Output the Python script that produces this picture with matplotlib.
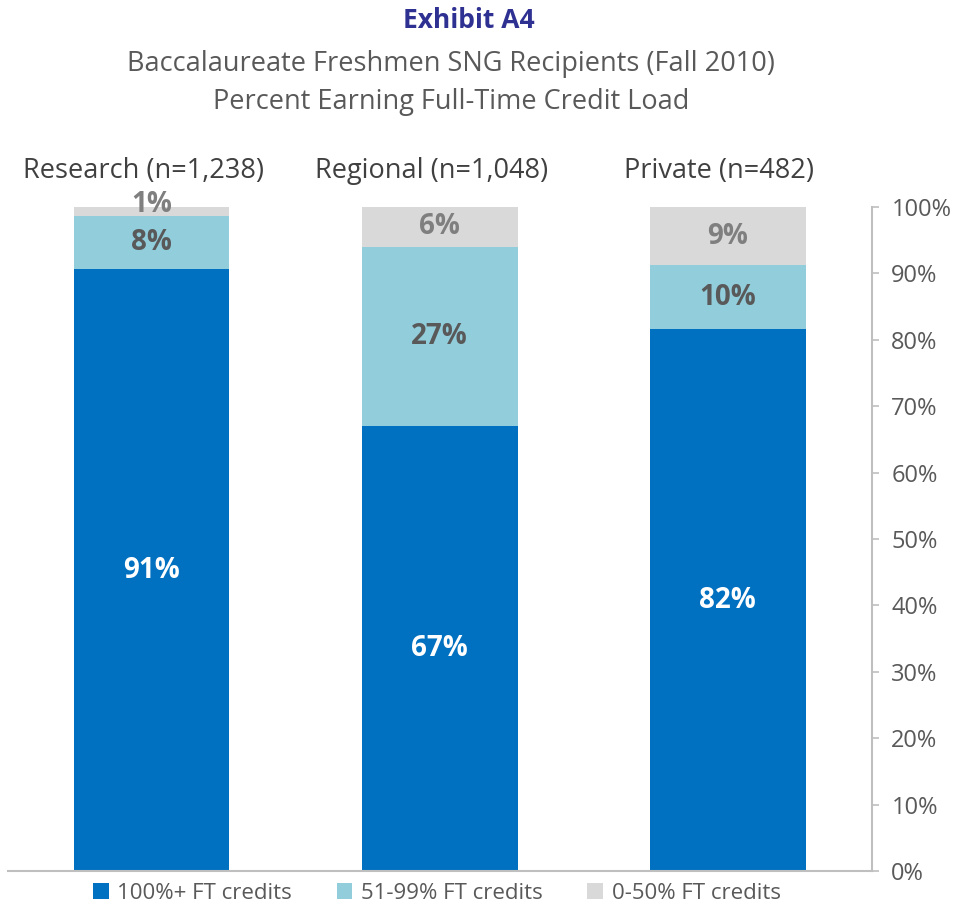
import matplotlib
matplotlib.use("Agg")
import matplotlib.pyplot as plt
import numpy as np

# ─────────────────────────────────────────────
#  DATA
# ─────────────────────────────────────────────
categories   = ["Research (n=1,238)", "Regional (n=1,048)", "Private (n=482)"]
series_names = ["100%+ FT credits", "51-99% FT credits", "0-50% FT credits"]
full_load    = [90.6, 67.0, 81.6]
partial      = [8.0, 27.0, 9.6]
low_load     = [1.4, 6.0, 8.8]

title_main  = "Exhibit A4"
title_lines = ["Baccalaureate Freshmen SNG Recipients (Fall 2010)",
               "Percent Earning Full-Time Credit Load"]

# ─────────────────────────────────────────────
#  STYLE
# ─────────────────────────────────────────────
plt.rcParams["font.family"] = ["Open Sans", "DejaVu Sans"]
colors     = ["#0070C0", "#92CDDC", "#D9D9D9"]
label_cols = ["white", "#595959", "#7F7F7F"]
axis_grey  = "#BFBFBF"
text_grey  = "#595959"

fig = plt.figure(figsize=(9.56, 9.05), dpi=100, facecolor="white")
ax = fig.add_axes([0.008, 0.0376, 0.904, 0.7336])

x = np.arange(len(categories))
width = 0.54
series = [full_load, partial, low_load]
bottom = np.zeros(len(categories))

for vals, col, lcol, name in zip(series, colors, label_cols, series_names):
    vals = np.array(vals)
    ax.bar(x, vals, width, bottom=bottom, color=col, label=name, zorder=2)
    for xi, b, v in zip(x, bottom, vals):
        dy = 5 if v < 3 else 0   # tiny segment: nudge label up like Excel does
        ax.annotate(f"{round(v):d}%", (xi, b + v / 2), xytext=(0, dy),
                    textcoords="offset points", ha="center", va="center",
                    fontsize=20, fontweight="bold", color=lcol, zorder=3)
    bottom = bottom + vals

ax.set_xlim(-0.5, 2.5)
ax.set_ylim(0, 100)
ax.set_xticks([])
ax.yaxis.tick_right()
ax.set_yticks(np.arange(0, 101, 10))
ax.set_yticklabels([f"{v}%" for v in range(0, 101, 10)])
ax.tick_params(axis="y", direction="out", length=5, width=1.2,
               color=axis_grey, labelcolor=text_grey, labelsize=17, pad=9)

for s in ["left", "top"]:
    ax.spines[s].set_visible(False)
for s in ["right", "bottom"]:
    ax.spines[s].set_color(axis_grey)
    ax.spines[s].set_linewidth(1.5)

# category labels above bars
for xi, cat in zip(x, categories):
    ax.text(xi - 0.03, 1.054, cat, transform=ax.get_xaxis_transform(),
            ha="center", va="center", fontsize=19.5, color="#404040")

# titles
fig.text(0.49, 0.977, title_main, ha="center", va="center",
         fontsize=19, fontweight="bold", color="#2E3192")
for i, line in enumerate(title_lines):
    fig.text(0.472, 0.929 - i * 0.042, line, ha="center", va="center",
             fontsize=19.5, color=text_grey)

fig.legend(loc="lower center", ncol=3, frameon=False,
           bbox_to_anchor=(0.457, -0.021), fontsize=16,
           handlelength=0.7, handleheight=0.7, handletextpad=0.4,
           columnspacing=2.0, labelcolor=text_grey)

fig.savefig("out.png", dpi=100, facecolor="white")
